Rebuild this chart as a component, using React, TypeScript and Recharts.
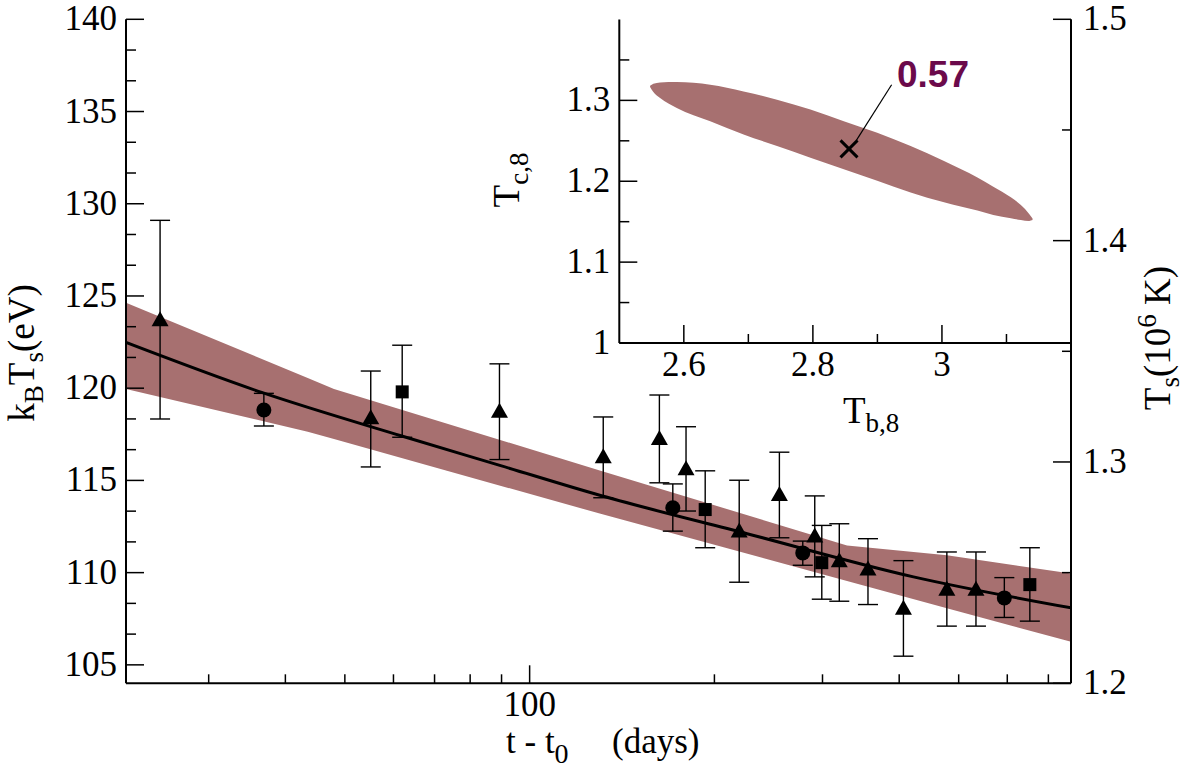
import React from "react";
import {
  Area,
  ComposedChart,
  ErrorBar,
  Line,
  ReferenceLine,
  Scatter,
  XAxis,
  YAxis,
} from "recharts";

// ---- main panel: measurements (t - t0 in days, kT in eV) ----
const triT = [25, 55.1, 89.3, 131.8, 162.7, 179.8, 219.5, 255.2, 291.4, 319.5, 355.8, 406.4, 478.3, 533.5];
const triKT = [123.74, 118.42, 118.78, 116.31, 117.3, 115.66, 112.29, 114.27, 112.02, 110.67, 110.22, 108.09, 109.13, 109.13];
const triHi = [129.1, 120.93, 121.32, 118.44, 119.63, 117.91, 115.01, 116.53, 114.16, 112.65, 111.84, 110.65, 111.12, 111.12];
const triLo = [118.33, 115.73, 116.13, 114.06, 114.87, 113.34, 109.48, 111.89, 109.77, 108.45, 108.27, 105.47, 107.1, 107.1];

const circT = [36.9, 171.1, 278.6, 593.4];
const circKT = [118.82, 113.52, 111.07, 108.63];
const circHi = [119.72, 114.81, 111.71, 109.73];
const circLo = [117.95, 112.25, 110.4, 107.57];

const sqT = [62.0, 193.2, 299.2, 653];
const sqKT = [119.8, 113.42, 110.54, 109.35];
const sqHi = [122.33, 115.52, 112.56, 111.35];
const sqLo = [117.34, 111.35, 108.56, 107.37];

// cooling fit and its uncertainty band
const fitT = [22, 36.6, 61.7, 89.7, 130.5, 226.1, 422, 762];
const fitKT = [122.48, 119.77, 117.42, 115.8, 114.18, 112.11, 109.77, 108.09];
const bandT = [22, 43.5, 48.0, 130.5, 328.9, 478.4, 762];
const bandLo = [119.95, 117.64, 117.24, 113.19, 109.55, 108.07, 106.25];
const bandHi = [124.63, 120.55, 119.95, 115.53, 111.47, 110.94, 109.95];

// ---- inset: confidence region in (Tb,8, Tc,8) ----
const ellX = [2.5477, 2.5528, 2.5632, 2.5891, 2.6409, 2.6926, 2.7444, 2.7962, 2.8479, 2.8997, 2.9515, 3.0032, 3.055, 3.0796, 3.1068, 3.1223, 3.1352, 3.1404];
const ellLo = [1.3165, 1.3103, 1.3029, 1.2906, 1.2742, 1.2579, 1.2435, 1.2292, 1.2149, 1.2005, 1.1862, 1.1739, 1.1637, 1.1584, 1.1543, 1.1522, 1.151, 1.152];
const ellHi = [1.318, 1.3205, 1.3222, 1.3226, 1.3193, 1.3111, 1.3009, 1.2886, 1.2742, 1.2599, 1.2435, 1.2251, 1.2046, 1.1932, 1.1801, 1.1706, 1.1596, 1.154];
const bestTb = 2.856;
const bestTc = 1.24;
const bestLabel = "0.57";

// ---- ticks ----
const kTMajor = [105, 110, 115, 120, 125, 130, 135, 140];
const kTTicks = kTMajor.flatMap((m, i) => (i === 0 ? [m] : [m - 10 / 3, m - 5 / 3, m]));
const tsMajor = [1.2, 1.3, 1.4, 1.5];
const tsTicks = [1.2, 1.25, 1.3, 1.35, 1.4, 1.45, 1.5];
const tMajor = [100];
const tTicks = [30, 40, 50, 60, 70, 80, 90, 100, 200, 300, 400, 500, 600, 700];
const tbMajor = [2.6, 2.8, 3.0];
const tbTicks = [2.6, 2.7, 2.8, 2.9, 3.0, 3.1];
const tcMajor = [1.0, 1.1, 1.2, 1.3];
const tcTicks = [1.0, 1.05, 1.1, 1.15, 1.2, 1.25, 1.3, 1.35];
const topMajor = [2, 4, 6, 8];
const topTicks = [1, 2, 3, 4, 5, 6, 7, 8, 9];

const W = 1200;
const H = 779;
const SERIF = "Liberation Serif";
const BAND = "#a77070";
const AXIS = { stroke: "#000", strokeWidth: 2 };

const withErr = (t: number[], v: number[], hi: number[], lo: number[]) =>
  t.map((x, i) => ({ t: x, kT: v[i], err: [v[i] - lo[i], hi[i] - v[i]] }));

const triData = withErr(triT, triKT, triHi, triLo);
const circData = withErr(circT, circKT, circHi, circLo);
const sqData = withErr(sqT, sqKT, sqHi, sqLo);
const fitData = fitT.map((t, i) => ({ t, fit: fitKT[i] }));
const bandData = bandT.map((t, i) => ({ t, band: [bandLo[i], bandHi[i]] }));
const ellData = ellX.map((x, i) => ({ x, region: [ellLo[i], ellHi[i]] }));
const bestData = [{ x: bestTb, y: bestTc }];

type Side = "left" | "right" | "bottom" | "top";

// tick label as an html box so the serif face is kept
function TickLabel({ x, y, w, align, children }: { x: number; y: number; w: number; align: "left" | "right" | "center"; children: React.ReactNode }) {
  return (
    <foreignObject x={x} y={y} width={w} height={50}>
      <div
        style={{
          fontFamily: SERIF,
          fontSize: 35,
          lineHeight: "50px",
          height: 50,
          textAlign: align,
          color: "#000",
          whiteSpace: "nowrap",
        }}
      >
        {children}
      </div>
    </foreignObject>
  );
}

// inward ticks, long for majors; labels only on majors
function makeTick(side: Side, majors: number[], fmt?: (v: number) => string, minorLen = 9) {
  return function TickMark(props: any) {
    const { x, y, payload } = props;
    const v = payload.value as number;
    const major = majors.some((m) => Math.abs(m - v) < 1e-6);
    const len = major ? 18 : minorLen;
    const text = major && fmt ? fmt(v) : null;
    if (side === "left") {
      return (
        <g>
          <line x1={x} y1={y} x2={x + len} y2={y} stroke="#000" strokeWidth={1.5} />
          {text && (
            <TickLabel x={x - 9 - 90} y={y - 25} w={90} align="right">
              {text}
            </TickLabel>
          )}
        </g>
      );
    }
    if (side === "right") {
      return (
        <g>
          <line x1={x} y1={y} x2={x - len} y2={y} stroke="#000" strokeWidth={1.5} />
          {text && (
            <TickLabel x={x + 12} y={y - 25} w={90} align="left">
              {text}
            </TickLabel>
          )}
        </g>
      );
    }
    if (side === "bottom") {
      return (
        <g>
          <line x1={x} y1={y} x2={x} y2={y - len} stroke="#000" strokeWidth={1.5} />
          {text && (
            <TickLabel x={x - 50} y={y - 3} w={100} align="center">
              {text}
            </TickLabel>
          )}
        </g>
      );
    }
    return (
      <g>
        <line x1={x} y1={y} x2={x} y2={y + len} stroke="#000" strokeWidth={1.5} />
      </g>
    );
  };
}

const TriangleDot = (p: any) => (
  <polygon
    points={`${p.cx},${p.cy - 8} ${p.cx - 8.5},${p.cy + 7} ${p.cx + 8.5},${p.cy + 7}`}
    fill="#000"
  />
);
const CircleDot = (p: any) => <circle cx={p.cx} cy={p.cy} r={7.5} fill="#000" />;
const SquareDot = (p: any) => (
  <rect x={p.cx - 6.5} y={p.cy - 6.5} width={13} height={13} fill="#000" />
);
const CrossDot = (p: any) => (
  <g stroke="#000" strokeWidth={3}>
    <line x1={p.cx - 8.5} y1={p.cy - 8.5} x2={p.cx + 8.5} y2={p.cy + 8.5} />
    <line x1={p.cx - 8.5} y1={p.cy + 8.5} x2={p.cx + 8.5} y2={p.cy - 8.5} />
  </g>
);

// axis titles and the annotation, drawn in a plain svg on top
function Titles() {
  return (
    <svg width={W} height={H} style={{ position: "absolute", left: 0, top: 0, pointerEvents: "none" }}>
      <g fontFamily={SERIF} fill="#000">
        <text transform="translate(34 353) rotate(-90)" textAnchor="middle" fontSize={37}>
          k<tspan fontSize={27} dy={9}>B</tspan>
          <tspan dy={-9}>T</tspan>
          <tspan fontSize={27} dy={9}>s</tspan>
          <tspan dy={-9}>(eV)</tspan>
        </text>
        <text x={506} y={753} fontSize={35}>
          t - t<tspan fontSize={28} dy={10}>0</tspan>
          <tspan x={612} dy={-10}>(days)</tspan>
        </text>
        <text transform="translate(1170 338) rotate(-90)" textAnchor="middle" fontSize={37}>
          T<tspan fontSize={27} dy={9}>s</tspan>
          <tspan dy={-9}>(10</tspan>
          <tspan fontSize={27} dy={-14}>6</tspan>
          <tspan dy={14}> K)</tspan>
        </text>
        <text transform="translate(519 180) rotate(-90)" textAnchor="middle" fontSize={37}>
          T<tspan fontSize={27} dy={9}>c,8</tspan>
        </text>
        <text x={843} y={423} fontSize={37}>
          T<tspan fontSize={27} dy={9}>b,8</tspan>
        </text>
      </g>
      <text x={897} y={87} fontFamily="Liberation Sans" fontWeight="bold" fontSize={37} fill="#6b0a4b">
        {bestLabel}
      </text>
    </svg>
  );
}

function MainPanel() {
  return (
    <ComposedChart width={W} height={H} margin={{ top: 19.3, right: 0, bottom: 0, left: 0 }}>
      <XAxis
        dataKey="t"
        type="number"
        scale="log"
        domain={[22, 762]}
        allowDataOverflow
        ticks={tTicks}
        interval={0}
        height={H - 683.3}
        axisLine={AXIS}
        tickLine={false}
        tickSize={0}
        tickMargin={0}
        tick={makeTick("bottom", tMajor, (v) => String(v))}
      />
      <XAxis
        xAxisId="top"
        orientation="top"
        type="number"
        domain={[0, 1]}
        allowDataOverflow
        height={0}
        axisLine={AXIS}
        tickLine={false}
        tick={false}
      />
      <YAxis
        type="number"
        domain={[104, 140]}
        allowDataOverflow
        ticks={kTTicks}
        interval={0}
        width={126}
        axisLine={AXIS}
        tickLine={false}
        tickSize={0}
        tickMargin={0}
        tick={makeTick("left", kTMajor, (v) => String(Math.round(v)), 10)}
      />
      <YAxis
        yAxisId="right"
        orientation="right"
        type="number"
        domain={[1.2, 1.5]}
        allowDataOverflow
        ticks={tsTicks}
        interval={0}
        width={W - 1071}
        axisLine={AXIS}
        tickLine={false}
        tickSize={0}
        tickMargin={0}
        tick={makeTick("right", tsMajor, (v) => v.toFixed(1))}
      />
      <Area
        data={bandData}
        dataKey="band"
        type="linear"
        fill={BAND}
        fillOpacity={1}
        stroke="none"
        isAnimationActive={false}
      />
      <Line
        data={fitData}
        dataKey="fit"
        type="monotone"
        stroke="#000"
        strokeWidth={3}
        dot={false}
        isAnimationActive={false}
      />
      <Scatter data={triData} dataKey="kT" shape={TriangleDot} isAnimationActive={false}>
        <ErrorBar dataKey="err" direction="y" width={10} stroke="#000" strokeWidth={1.4} />
      </Scatter>
      <Scatter data={circData} dataKey="kT" shape={CircleDot} isAnimationActive={false}>
        <ErrorBar dataKey="err" direction="y" width={10} stroke="#000" strokeWidth={1.4} />
      </Scatter>
      <Scatter data={sqData} dataKey="kT" shape={SquareDot} isAnimationActive={false}>
        <ErrorBar dataKey="err" direction="y" width={10} stroke="#000" strokeWidth={1.4} />
      </Scatter>
    </ComposedChart>
  );
}

function InsetPanel() {
  return (
    <ComposedChart width={W} height={H} margin={{ top: 19.5, right: W - 1071, bottom: H - 343 - 80, left: 0 }}>
      <XAxis
        dataKey="x"
        type="number"
        domain={[2.5, 3.2]}
        allowDataOverflow
        ticks={tbTicks}
        interval={0}
        height={80}
        axisLine={AXIS}
        tickLine={false}
        tickSize={0}
        tickMargin={0}
        tick={makeTick("bottom", tbMajor, (v) => (Math.abs(v - 3) < 1e-6 ? "3" : v.toFixed(1)))}
      />
      <XAxis
        xAxisId="top"
        orientation="top"
        type="number"
        domain={[0, 10]}
        allowDataOverflow
        ticks={topTicks}
        interval={0}
        height={0}
        axisLine={AXIS}
        tickLine={false}
        tickSize={0}
        tickMargin={0}
        tick={makeTick("top", topMajor)}
      />
      <YAxis
        type="number"
        domain={[1.0, 1.4]}
        allowDataOverflow
        ticks={tcTicks}
        interval={0}
        width={619.3}
        axisLine={AXIS}
        tickLine={false}
        tickSize={0}
        tickMargin={0}
        tick={makeTick("left", tcMajor, (v) => (Math.abs(v - 1) < 1e-6 ? "1" : v.toFixed(1)), 10)}
      />
      <Area
        data={ellData}
        dataKey="region"
        type="monotone"
        fill={BAND}
        fillOpacity={1}
        stroke="none"
        isAnimationActive={false}
      />
      <ReferenceLine
        segment={[
          { x: 2.922, y: 1.3193 },
          { x: 2.8676, y: 1.2509 },
        ]}
        stroke="#000"
        strokeWidth={1.2}
      />
      <Scatter data={bestData} dataKey="y" shape={CrossDot} isAnimationActive={false} />
    </ComposedChart>
  );
}

export default function App() {
  return (
    <div style={{ position: "relative", width: W, height: H, background: "#fff" }}>
      <style>{"body{margin:0}"}</style>
      <div style={{ position: "absolute", left: 0, top: 0 }}>
        <MainPanel />
      </div>
      <div style={{ position: "absolute", left: 0, top: 0, pointerEvents: "none" }}>
        <InsetPanel />
      </div>
      <Titles />
    </div>
  );
}
